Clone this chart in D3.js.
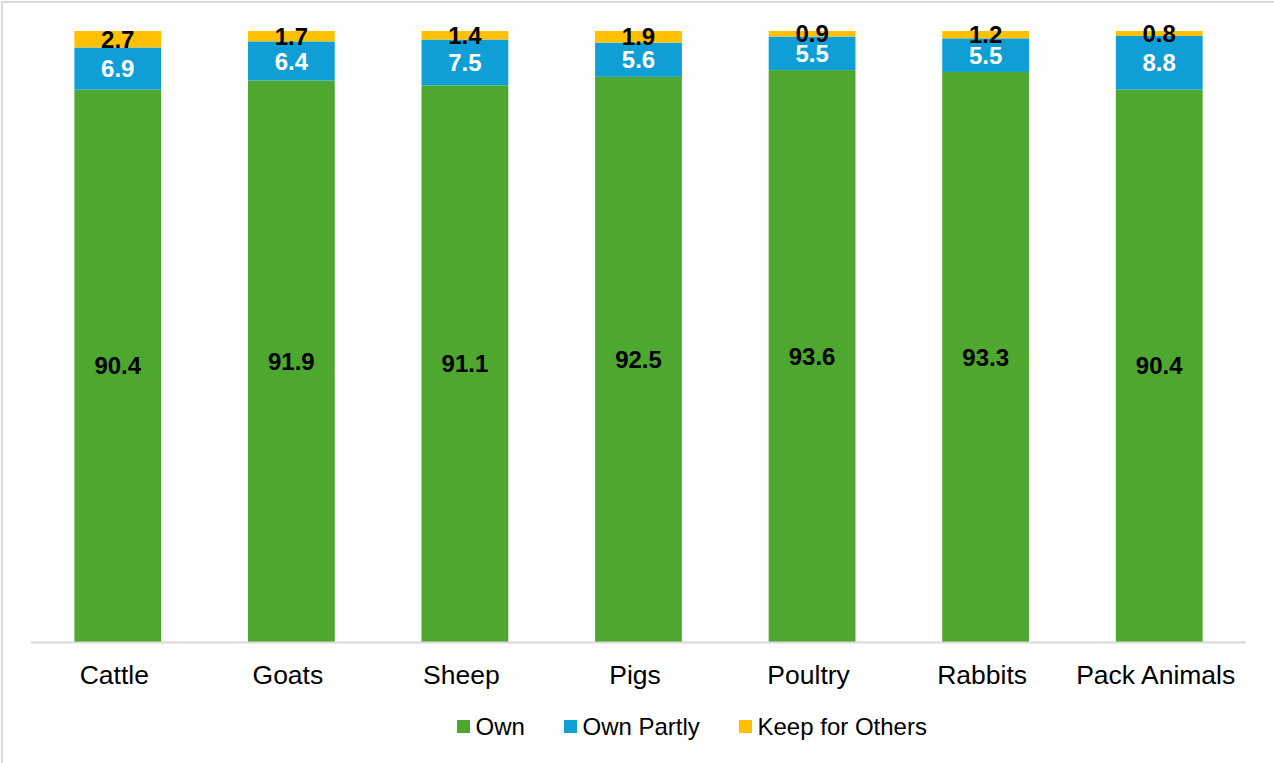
<!DOCTYPE html>
<html>
<head>
<meta charset="utf-8">
<script src="https://cdn.jsdelivr.net/npm/d3@7"></script>
<style>
  html, body { margin: 0; padding: 0; background: #fff; }
  svg { display: block; font-family: "Liberation Sans", Arial, sans-serif; }
</style>
</head>
<body>
<svg id="chart" width="1274" height="763"></svg>
<script>
const categories = ["Cattle", "Goats", "Sheep", "Pigs", "Poultry", "Rabbits", "Pack Animals"];
const seriesNames = ["Own", "Own Partly", "Keep for Others"];
const own = [90.4, 91.9, 91.1, 92.5, 93.6, 93.3, 90.4];
const ownPartly = [6.9, 6.4, 7.5, 5.6, 5.5, 5.5, 8.8];
const keepForOthers = [2.7, 1.7, 1.4, 1.9, 0.9, 1.2, 0.8];

const colors = ["#4EA72E", "#0F9ED5", "#FFC000"];
const labelColors = ["#000", "#fff", "#000"];

const svg = d3.select("#chart");

// outer border
svg.append("rect")
  .attr("x", 2).attr("y", 2)
  .attr("width", 1290).attr("height", 780)
  .attr("fill", "none")
  .attr("stroke", "#d9d9d9")
  .attr("stroke-width", 2);

const rows = categories.map((c, i) => ({
  category: c,
  "Own": own[i],
  "Own Partly": ownPartly[i],
  "Keep for Others": keepForOthers[i]
}));

const stack = d3.stack().keys(seriesNames)(rows);

const x = d3.scaleBand().domain(categories).range([31, 1246]).paddingInner(0.5).paddingOuter(0.25);
const y = d3.scaleLinear().domain([0, 100]).range([642, 31]);

const layers = svg.selectAll("g.layer")
  .data(stack)
  .join("g")
  .attr("class", "layer")
  .attr("fill", (d, i) => colors[i]);

layers.selectAll("rect")
  .data(d => d)
  .join("rect")
  .attr("x", d => x(d.data.category))
  .attr("width", x.bandwidth())
  .attr("y", d => y(d[1]))
  .attr("height", d => y(d[0]) - y(d[1]));

// value labels
stack.forEach((layer, li) => {
  svg.append("g")
    .selectAll("text")
    .data(layer)
    .join("text")
    .attr("x", d => x(d.data.category) + x.bandwidth() / 2)
    .attr("y", d => (y(d[0]) + y(d[1])) / 2)
    .attr("dy", "0.36em")
    .attr("text-anchor", "middle")
    .attr("font-size", 24)
    .attr("font-weight", "bold")
    .attr("fill", labelColors[li])
    .text(d => (d[1] - d[0]).toFixed(1));
});

// x axis
const xAxis = svg.append("g")
  .attr("transform", "translate(0,642.5)")
  .call(d3.axisBottom(x).tickSize(0).tickPadding(0));
xAxis.select(".domain").attr("stroke", "#d9d9d9").attr("stroke-width", 2)
  .attr("d", "M31,0H1246");
xAxis.selectAll(".tick text")
  .attr("font-family", "Liberation Sans, Arial, sans-serif")
  .attr("font-size", 26.5)
  .attr("fill", "#000")
  .attr("dy", null)
  .attr("x", -3.5)
  .attr("y", 41.5);

// legend
const legendX = [457, 564, 739];
const legend = svg.append("g");
seriesNames.forEach((name, i) => {
  legend.append("rect")
    .attr("x", legendX[i]).attr("y", 720)
    .attr("width", 13).attr("height", 13)
    .attr("fill", colors[i]);
  legend.append("text")
    .attr("x", legendX[i] + 18.5)
    .attr("y", 735)
    .attr("font-size", 24)
    .attr("fill", "#000")
    .text(name);
});
</script>
</body>
</html>
